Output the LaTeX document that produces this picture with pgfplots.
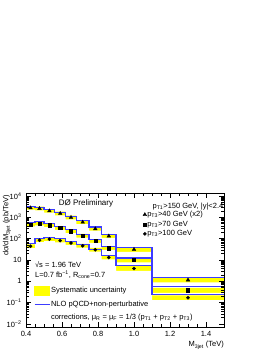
\documentclass[border=0pt]{standalone}
\usepackage{pgfplots}
\pgfplotsset{compat=1.18}
\usepackage{pgfplotstable}
\usepackage{fontspec}
\setmainfont{Liberation Sans}
\definecolor{nlo}{RGB}{60,60,255}
\definecolor{band}{RGB}{255,255,0}

% bin left edges (last row = right edge of last bin)
\pgfplotstableread{
x    Tlo   Thi   Slo   Shi   Clo   Chi   NT   NS   NC
0.40 2262  3367  377   561   36    53.7  3300 580  58
0.45 2115  3148  418   622   68.9  102.5 2950 620  105
0.50 1639  2440  348   519   77    114.7 2250 510  112
0.56 1238  1842  261   388   66.4  98.8  1700 380  98
0.62 803   1196  183   272   51.6  76.9  1100 270  76
0.68 484   720   111   166   37.7  56.1  680  160  53
0.75 238   354   64    95    24.6  36.6  350  92   32
0.82 108   161   29.5  43.9  10.7  15.9  160  44   15.5
0.90 23.8  40.3  7.8   13.3  3.08  5.2   37   12.4 5.4
1.10 0.88  1.5   0.29  0.49  0.131 0.221 1.5  0.58 0.24
1.50 0.88  1.5   0.29  0.49  0.131 0.221 1.5  0.58 0.24
}\edges

% data points at bin centres
\pgfplotstableread{
x     T     S     C
0.425 2760  460   44
0.475 2580  510   84
0.53  2000  425   94
0.59  1510  318   81
0.65  980   223   63
0.715 590   136   46
0.785 290   78    30
0.86  132   36    13
1.00  31    10.2  4.0
1.30  1.15  0.38  0.17
}\points

\begin{document}
\begin{tikzpicture}
\path (0pt,0pt) rectangle (252pt,355pt);
\begin{axis}[
  at={(26pt,28pt)}, anchor=south west,
  scale only axis, width=198pt, height=134pt,
  xmin=0.4, xmax=1.5,
  ymode=log, ymin=7.2e-3, ymax=1.38e4, log origin y=infty,
  axis on top, clip=false,
  axis line style={line width=0.6pt},
  tick style={black, line width=0.5pt},
  tick align=inside,
  major tick length=5pt, minor tick length=2.6pt,
  xtick pos=both, ytick pos=both,
  xtick={0.4,0.6,0.8,1.0,1.2,1.4},
  xticklabels={0.4,0.6,0.8,1.0,1.2,1.4},
  minor x tick num=3,
  ytick={0.01,0.1,1,10,100,1000,10000},
  yticklabels={10\textsuperscript{−2},10\textsuperscript{−1},1,10,10\textsuperscript{2},10\textsuperscript{3},10\textsuperscript{4}},
  minor ytick={0.02,0.03,0.04,0.05,0.06,0.07,0.08,0.09,0.2,0.3,0.4,0.5,0.6,0.7,0.8,0.9,2,3,4,5,6,7,8,9,20,30,40,50,60,70,80,90,200,300,400,500,600,700,800,900,2000,3000,4000,5000,6000,7000,8000,9000},
  ticklabel style={font=\fontsize{7.5}{8}\selectfont},
  xticklabel style={yshift=-1pt},
  yticklabel style={xshift=-1pt},
  legend image code/.code={\draw[#1] plot coordinates {(2pt,0pt)};},
  legend style={at={(0.59,0.87)}, anchor=north west, draw=none, fill=none,
    font=\fontsize{7.5}{8}\selectfont, row sep=1.6pt, inner sep=0pt,
    nodes={inner sep=0.6pt}},
  legend cell align=left,
]
% systematic bands: yellow under the upper edge, white under the lower edge
\addplot[fill=band, draw=none, const plot, forget plot] table[x=x,y=Thi]{\edges} \closedcycle;
\addplot[fill=white, draw=none, const plot, forget plot] table[x=x,y=Tlo]{\edges} \closedcycle;
\addplot[fill=band, draw=none, const plot, forget plot] table[x=x,y=Shi]{\edges} \closedcycle;
\addplot[fill=white, draw=none, const plot, forget plot] table[x=x,y=Slo]{\edges} \closedcycle;
\addplot[fill=band, draw=none, const plot, forget plot] table[x=x,y=Chi]{\edges} \closedcycle;
\addplot[fill=white, draw=none, const plot, forget plot] table[x=x,y=Clo]{\edges} \closedcycle;
% NLO theory
\addplot[nlo, line width=1.1pt, const plot, forget plot] table[x=x,y=NT]{\edges};
\addplot[nlo, line width=1.1pt, const plot, forget plot] table[x=x,y=NS]{\edges};
\addplot[nlo, line width=1.1pt, const plot, forget plot] table[x=x,y=NC]{\edges};
% data
\addplot[only marks, mark=triangle*, mark size=2.1pt, black] table[x=x,y=T]{\points};
\addlegendentry{p\textsubscript{T3}>40 GeV (x2)}
\addplot[only marks, mark=square*, mark size=1.6pt, black] table[x=x,y=S]{\points};
\addlegendentry{p\textsubscript{T3}>70 GeV}
\addplot[only marks, mark=*, mark size=1.6pt, black] table[x=x,y=C]{\points};
\addlegendentry{p\textsubscript{T3}>100 GeV}

\node[font=\fontsize{8}{9}\selectfont] at (axis description cs:0.303,0.925) {DØ Preliminary};
\node[anchor=east, inner sep=0.5pt, font=\fontsize{7.5}{8}\selectfont] at (axis description cs:1.0,0.897) {p\textsubscript{T1}>150 GeV, |y|<2.4};
\node[anchor=west, inner sep=0pt, font=\fontsize{7.5}{8}\selectfont] at (axis description cs:0.045,0.463) {√s = 1.96 TeV};
\node[anchor=west, inner sep=0pt, font=\fontsize{7.5}{8}\selectfont] at (axis description cs:0.045,0.392) {L=0.7 fb\textsuperscript{−1}, R\textsubscript{cone}=0.7};
\node[rotate=90, anchor=east, inner sep=0pt, font=\fontsize{7.5}{8}\selectfont] at (axis description cs:-0.096,0.985) {dσ/dM\textsubscript{3jet} (pb/TeV)};
\node[anchor=base east, inner sep=0pt, font=\fontsize{7.5}{8}\selectfont] at (axis description cs:1.0,-0.149) {M\textsubscript{3jet} (TeV)};
\end{axis}
% second legend
\begin{axis}[
  at={(26pt,28pt)}, anchor=south west,
  scale only axis, width=198pt, height=134pt,
  xmin=0, xmax=1, ymin=0, ymax=1, hide axis,
  legend style={at={(0.04,0.305)}, anchor=north west, draw=none, fill=none,
    font=\fontsize{7.5}{8}\selectfont, row sep=4.5pt, inner sep=0pt,
    nodes={inner sep=0.8pt}},
  legend cell align=left,
]
\addplot[draw=none, forget plot] coordinates {(0,0) (1,1)};
\addlegendimage{legend image code/.code={\fill[band] (0pt,-4.5pt) rectangle (15pt,4.5pt);}}
\addlegendentry{Systematic uncertainty}
\addlegendimage{legend image code/.code={\draw[draw=nlo, line width=1.1pt] (0pt,0pt) -- (15pt,0pt);}}
\addlegendentry{NLO pQCD+non-perturbative}
\addlegendimage{legend image code/.code={\path[draw=none] (0pt,0pt) -- (15pt,0pt);}}
\addlegendentry{corrections, μ\textsubscript{R} = μ\textsubscript{F} = 1/3 (p\textsubscript{T1} + p\textsubscript{T2} + p\textsubscript{T3})}
\end{axis}
\end{tikzpicture}
\end{document}
